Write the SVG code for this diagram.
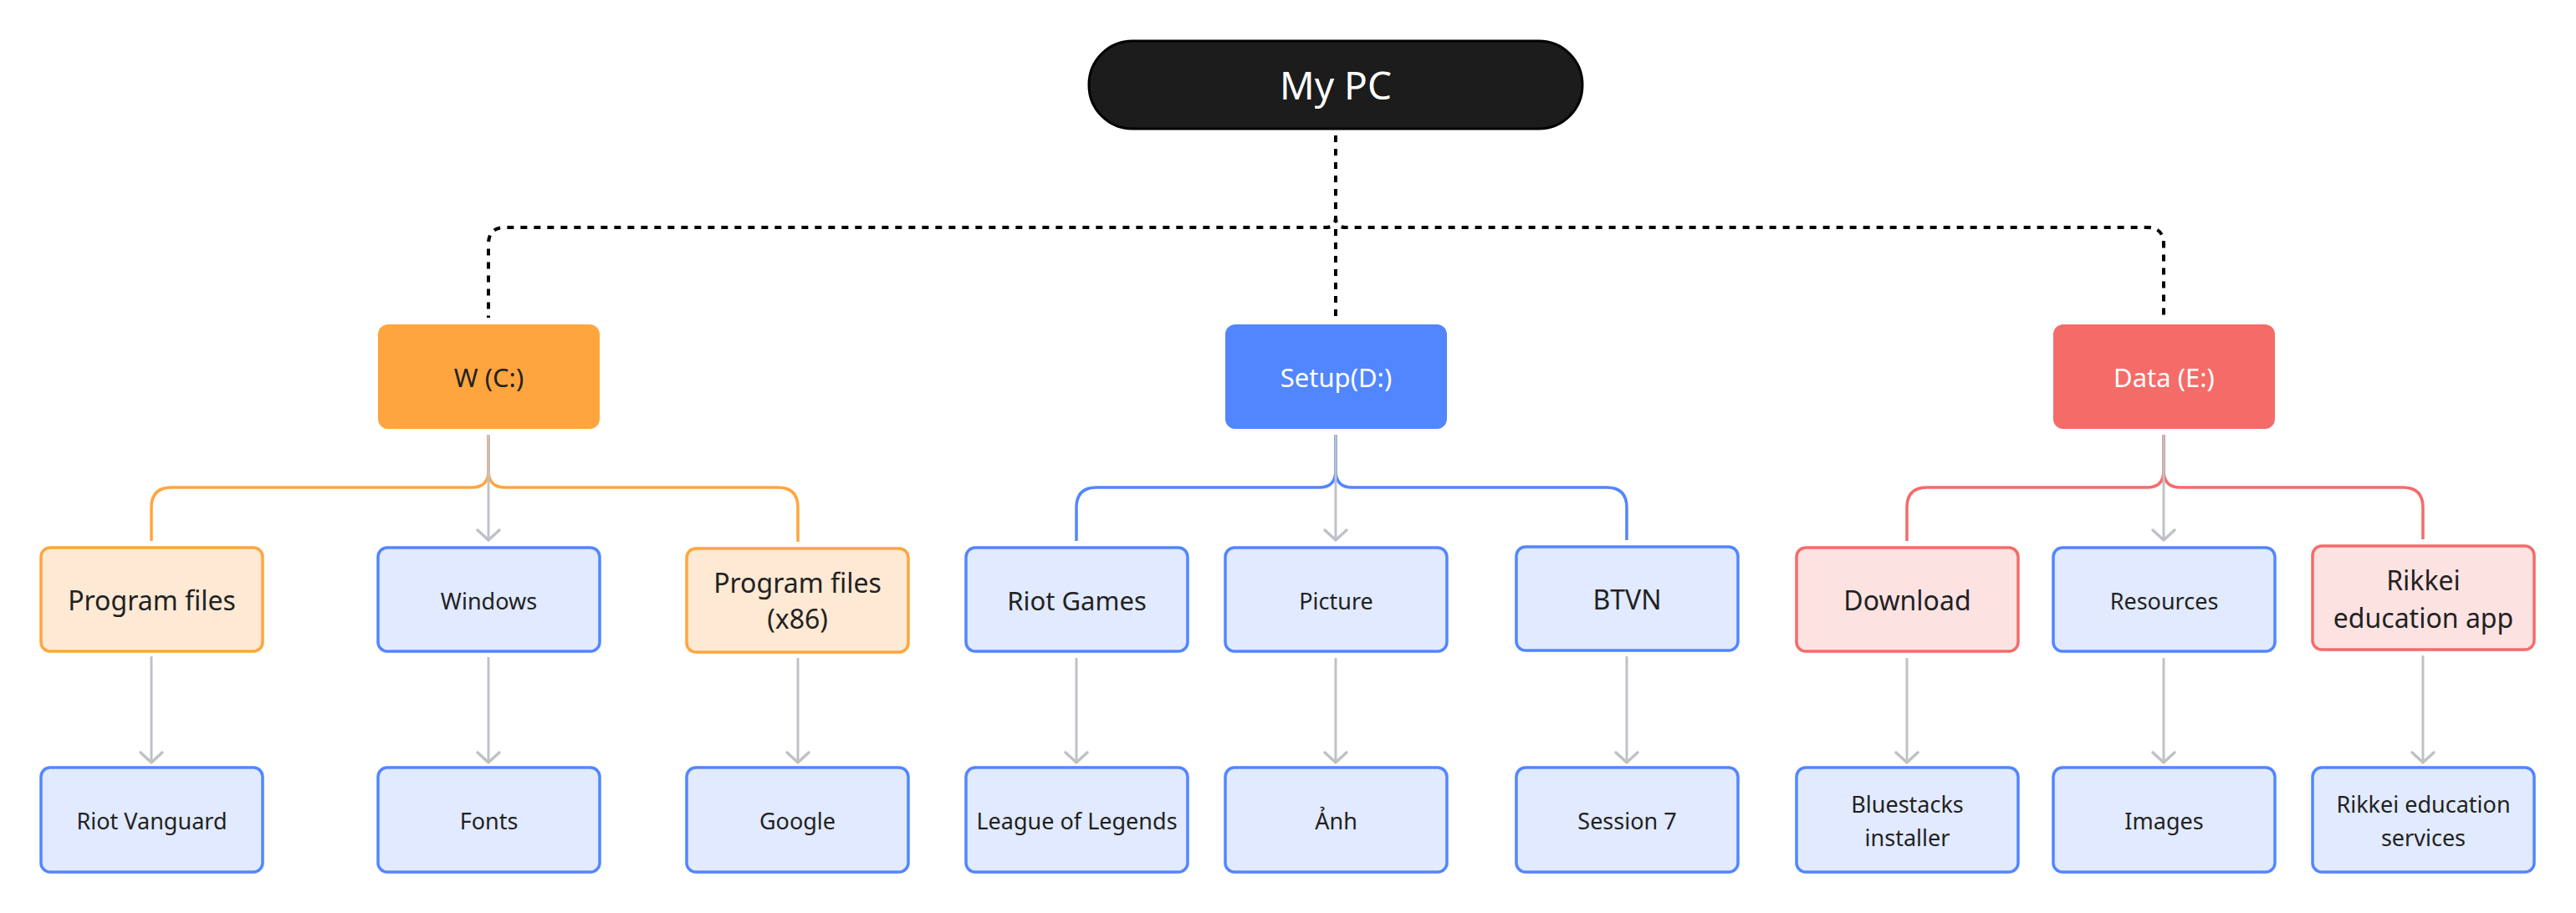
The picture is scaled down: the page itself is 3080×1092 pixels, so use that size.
<svg xmlns="http://www.w3.org/2000/svg" width="3080" height="1092" viewBox="0 0 3080 1092">
<style>
text{font-family:"Noto Sans","Liberation Sans",sans-serif;text-anchor:middle;fill:#222222}
.t27{font-size:27px}
.t31{font-size:31px}
.t32{font-size:32px}
.w{fill:#ffffff}
.blue{fill:#E1EAFF;stroke:#5286FF;stroke-width:3.5}
.orange{fill:#FEE9D4;stroke:#FFA53F;stroke-width:3.5}
.red{fill:#FDE2E2;stroke:#F46B6B;stroke-width:3.5}
.dot{fill:none;stroke:#000000;stroke-width:4;stroke-dasharray:8 8}
.gray{fill:none;stroke:#BEC2C8;stroke-width:3;marker-end:url(#arr)}
.bo{fill:none;stroke:#FFA53F;stroke-width:3.5}
.bb{fill:none;stroke:#5286FF;stroke-width:3.5}
.br{fill:none;stroke:#F46B6B;stroke-width:3.5}
</style>
<defs>
<marker id="arr" markerUnits="userSpaceOnUse" viewBox="-16 -16 32 32" markerWidth="32" markerHeight="32" refX="0" refY="0" orient="auto">
<path d="M-12,-13 L0,0 L-12,13" fill="none" stroke="#BEC2C8" stroke-width="3.5" stroke-linecap="round" stroke-linejoin="round"/>
</marker>
</defs>
<rect width="3080" height="1092" fill="#ffffff"/>
<g id="connectors">
<path class="dot" d="M1597 162 V260 Q1597 272 1585 272 H604 Q584 272 584 292 V380"/>
<path class="dot" d="M1597 162 V260 Q1597 272 1609 272 H2567 Q2587 272 2587 292 V380"/>
<path class="dot" d="M1597 162 V380"/>
<path class="bo" d="M584 520 V563 Q584 583 564 583 H205 Q181 583 181 607 V647"/>
<path class="bo" d="M584 520 V563 Q584 583 604 583 H930 Q954 583 954 607 V648"/>
<path class="bb" d="M1597 520 V563 Q1597 583 1577 583 H1311 Q1287 583 1287 607 V647"/>
<path class="bb" d="M1597 520 V563 Q1597 583 1617 583 H1921 Q1945 583 1945 607 V646"/>
<path class="br" d="M2587 520 V563 Q2587 583 2567 583 H2304 Q2280 583 2280 607 V647"/>
<path class="br" d="M2587 520 V563 Q2587 583 2607 583 H2873 Q2897 583 2897 607 V645"/>
<path class="gray" d="M584 520 V646"/>
<path class="gray" d="M1597 520 V646"/>
<path class="gray" d="M2587 520 V646"/>
<path class="gray" d="M181 785 V912"/>
<path class="gray" d="M584 786 V912"/>
<path class="gray" d="M954 787 V912"/>
<path class="gray" d="M1287 787 V912"/>
<path class="gray" d="M1597 787 V912"/>
<path class="gray" d="M1945 785 V912"/>
<path class="gray" d="M2280 787 V912"/>
<path class="gray" d="M2587 787 V912"/>
<path class="gray" d="M2897 784 V912"/>
</g>
<g id="mypc">
<rect x="1302" y="49" width="590" height="105" rx="52" fill="#1C1C1C" stroke="#000000" stroke-width="3"/>
<text class="w" x="1597" y="119" style="font-size:46px">My PC</text>
</g>
<g id="driveC">
<rect x="452" y="388" width="265" height="125" rx="12" fill="#FFA53F"/>
<text class="t31" x="584.5" y="463">W (C:)</text>
</g>
<g id="driveD">
<rect x="1465" y="388" width="265" height="125" rx="12" fill="#5286FF"/>
<text class="t31 w" x="1597.5" y="463">Setup(D:)</text>
</g>
<g id="driveE">
<rect x="2455" y="388" width="265" height="125" rx="12" fill="#F56B68"/>
<text class="t31 w" x="2587.5" y="463">Data (E:)</text>
</g>
<g id="programfiles">
<rect class="orange" x="49" y="655" width="265" height="124" rx="11"/>
<text class="t32" x="181.5" y="730">Program files</text>
</g>
<g id="windows">
<rect class="blue" x="452" y="655" width="265" height="124" rx="11"/>
<text class="t27" x="584.5" y="729">Windows</text>
</g>
<g id="programfilesx86">
<rect class="orange" x="821" y="656" width="265" height="124" rx="11"/>
<text class="t32" x="953.5" y="709">Program files</text>
<text class="t32" x="953.5" y="752">(x86)</text>
</g>
<g id="riotgames">
<rect class="blue" x="1155" y="655" width="265" height="124" rx="11"/>
<text class="t31" x="1287.5" y="730">Riot Games</text>
</g>
<g id="picture">
<rect class="blue" x="1465" y="655" width="265" height="124" rx="11"/>
<text class="t27" x="1597.5" y="729">Picture</text>
</g>
<g id="btvn">
<rect class="blue" x="1813" y="654" width="265" height="124" rx="11"/>
<text class="t32" x="1945.5" y="729">BTVN</text>
</g>
<g id="download">
<rect class="red" x="2148" y="655" width="265" height="124" rx="11"/>
<text class="t32" x="2280.5" y="730">Download</text>
</g>
<g id="resources">
<rect class="blue" x="2455" y="655" width="265" height="124" rx="11"/>
<text class="t27" x="2587.5" y="729">Resources</text>
</g>
<g id="rikkeiapp">
<rect class="red" x="2765" y="653" width="265" height="124" rx="11"/>
<text class="t32" x="2897.5" y="706">Rikkei</text>
<text class="t32" x="2897.5" y="751">education app</text>
</g>
<g id="riotvanguard">
<rect class="blue" x="49" y="918" width="265" height="125" rx="11"/>
<text class="t27" x="181.5" y="992">Riot Vanguard</text>
</g>
<g id="fonts">
<rect class="blue" x="452" y="918" width="265" height="125" rx="11"/>
<text class="t27" x="584.5" y="992">Fonts</text>
</g>
<g id="google">
<rect class="blue" x="821" y="918" width="265" height="125" rx="11"/>
<text class="t27" x="953.5" y="992">Google</text>
</g>
<g id="lol">
<rect class="blue" x="1155" y="918" width="265" height="125" rx="11"/>
<text class="t27" x="1287.5" y="992">League of Legends</text>
</g>
<g id="anh">
<rect class="blue" x="1465" y="918" width="265" height="125" rx="11"/>
<text class="t27" x="1597.5" y="992">Ảnh</text>
</g>
<g id="session7">
<rect class="blue" x="1813" y="918" width="265" height="125" rx="11"/>
<text class="t27" x="1945.5" y="992">Session 7</text>
</g>
<g id="bluestacks">
<rect class="blue" x="2148" y="918" width="265" height="125" rx="11"/>
<text class="t27" x="2280.5" y="972">Bluestacks</text>
<text class="t27" x="2280.5" y="1012">installer</text>
</g>
<g id="images">
<rect class="blue" x="2455" y="918" width="265" height="125" rx="11"/>
<text class="t27" x="2587.5" y="992">Images</text>
</g>
<g id="rikkeiservices">
<rect class="blue" x="2765" y="918" width="265" height="125" rx="11"/>
<text class="t27" x="2897.5" y="972">Rikkei education</text>
<text class="t27" x="2897.5" y="1012">services</text>
</g>
</svg>
